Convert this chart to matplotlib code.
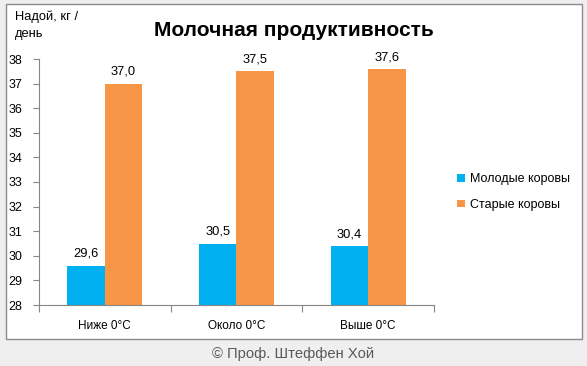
import matplotlib
matplotlib.use("Agg")
import matplotlib.pyplot as plt
from matplotlib.patches import Rectangle
import numpy as np

categories = ["Ниже 0°С", "Около 0°С", "Выше 0°С"]
young = [29.6, 30.5, 30.4]
old = [37.0, 37.5, 37.6]
series_names = ["Молодые коровы", "Старые коровы"]
yticks = list(range(28, 39))

plt.rcParams['font.family'] = ['Liberation Sans', 'DejaVu Sans']

W, H = 587, 366
fig = plt.figure(figsize=(W/100, H/100), dpi=100)
fig.patch.set_facecolor("#EFEFEF")

# white chart box
fig.patches.append(Rectangle((5.5/W, 1-339/H), 576/W, 335/H, transform=fig.transFigure,
                             facecolor="white", edgecolor="#8C8C8C", lw=1.0, zorder=-5))

ax = fig.add_axes([39/W, 1-305/H, 395/W, 246/H])
ax.set_zorder(2)
ax.set_facecolor("none")
x = np.arange(len(categories))
bw = 0.285
b1 = ax.bar(x - bw/2, [v - 28 for v in young], bw, bottom=28, color="#00B0F0", label=series_names[0])
b2 = ax.bar(x + bw/2, [v - 28 for v in old], bw, bottom=28, color="#F79646", label=series_names[1])

for bars, vals in ((b1, young), (b2, old)):
    for r, v in zip(bars, vals):
        ax.annotate(f"{v:.1f}".replace(".", ","), (r.get_x() + r.get_width()/2, v),
                    xytext=(0, 8.5), textcoords="offset points", ha="center", va="center",
                    fontsize=9.3, color="black")

ax.set_xlim(-0.5, 2.5)
ax.set_ylim(28, 38)
ax.set_yticks(yticks)
ax.set_yticklabels([str(t) for t in yticks], fontsize=9)
ax.set_xticks([-0.5, 0.5, 1.5, 2.5])
ax.set_xticklabels([])
ax.set_xticks(x, minor=True)
ax.set_xticklabels(categories, minor=True, fontsize=8.5)
ax.tick_params(axis='x', which='minor', length=0, pad=11)
ax.tick_params(axis='x', which='major', length=5, color="#868686", direction='out')
ax.tick_params(axis='y', length=4, color="#868686", direction='out', pad=8)
for s in ("top", "right"):
    ax.spines[s].set_visible(False)
for s in ("left", "bottom"):
    ax.spines[s].set_color("#868686")

fig.text(294/W, 1-30/H, "Молочная продуктивность", ha="center", va="center",
         fontsize=15, fontweight="bold")
fig.text(15/W, 1-17/H, "Надой, кг /", ha="left", va="center", fontsize=9.3)
fig.text(15/W, 1-34/H, "день", ha="left", va="center", fontsize=9.3)

leg = fig.legend(handles=[b1, b2], labels=series_names, loc="center left",
                 bbox_to_anchor=(446/W, 1-192/H), frameon=False, fontsize=9,
                 handlelength=0.6, handleheight=0.6, handletextpad=0.45, labelspacing=1.1)

fig.text(293.5/W, 1-354/H, "© Проф. Штеффен Хой", ha="center", va="center",
         fontsize=10.6, color="#595959")

fig.savefig("out.png", dpi=100, facecolor=fig.get_facecolor())
